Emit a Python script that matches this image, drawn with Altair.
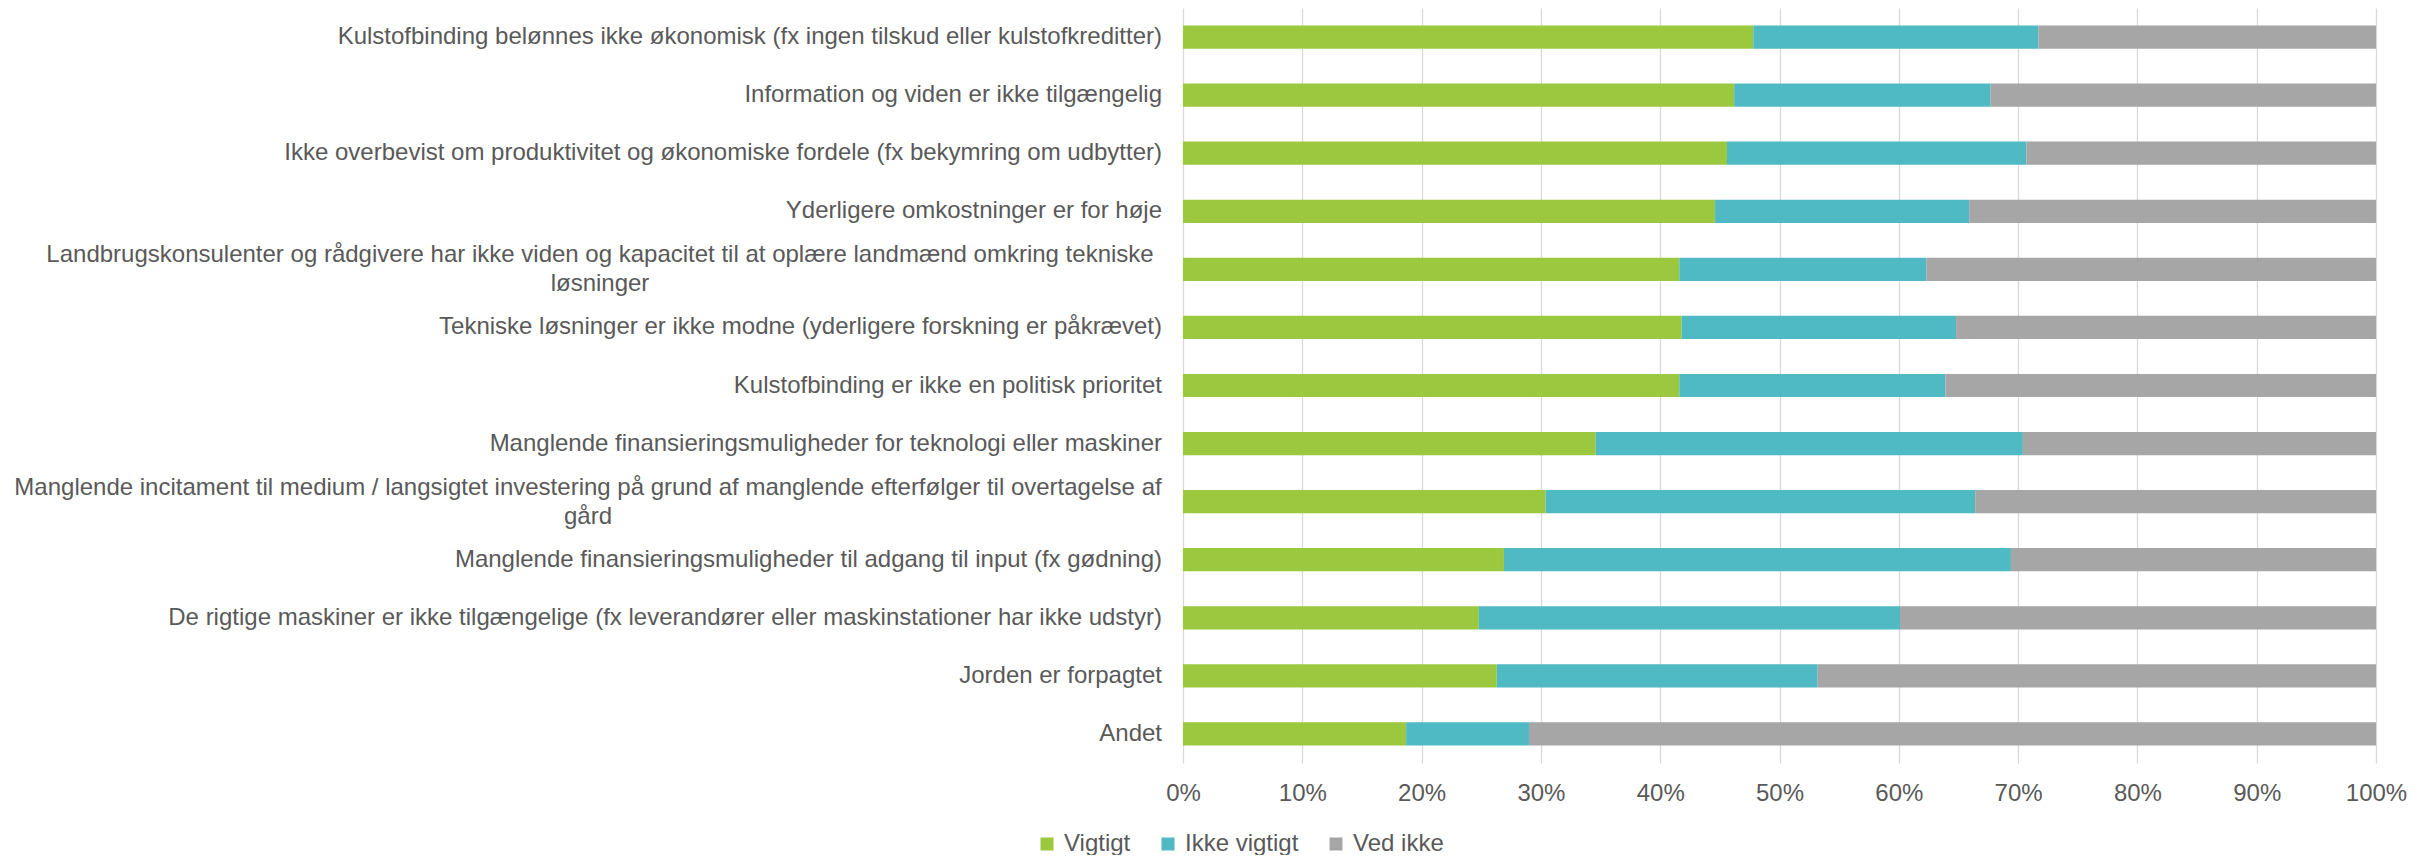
import altair as alt
import pandas as pd

categories = [
    "Kulstofbinding belønnes ikke økonomisk (fx ingen tilskud eller kulstofkreditter)",
    "Information og viden er ikke tilgængelig",
    "Ikke overbevist om produktivitet og økonomiske fordele (fx bekymring om udbytter)",
    "Yderligere omkostninger er for høje",
    "Landbrugskonsulenter og rådgivere har ikke viden og kapacitet til at oplære landmænd omkring tekniske løsninger",
    "Tekniske løsninger er ikke modne (yderligere forskning er påkrævet)",
    "Kulstofbinding er ikke en politisk prioritet\u00a0",
    "Manglende finansieringsmuligheder for teknologi eller maskiner",
    "Manglende incitament til medium / langsigtet investering på grund af manglende efterfølger til overtagelse af gård",
    "Manglende finansieringsmuligheder til adgang til input (fx gødning)",
    "De rigtige maskiner er ikke tilgængelige (fx leverandører eller maskinstationer har ikke udstyr)",
    "Jorden er forpagtet\u00a0",
    "Andet",
]

wrapped_a = ["Landbrugskonsulenter og rådgivere har ikke viden og kapacitet til at oplære landmænd omkring tekniske", "løsninger"]
wrapped_b = ["Manglende incitament til medium / langsigtet investering på grund af manglende efterfølger til overtagelse af", "gård"]

series = ["Vigtigt", "Ikke vigtigt", "Ved ikke"]
colors = ["#9BC83E", "#4FBAC4", "#A6A6A6"]

vigtigt = [47.8, 46.2, 45.6, 44.6, 41.6, 41.8, 41.6, 34.6, 30.4, 26.9, 24.8, 26.3, 18.7]
ikke_vigtigt = [23.9, 21.5, 25.1, 21.3, 20.7, 23.0, 22.3, 35.8, 36.0, 42.5, 35.3, 26.9, 10.3]
ved_ikke = [28.3, 32.3, 29.3, 34.1, 37.7, 35.2, 36.1, 29.6, 33.6, 30.6, 39.9, 46.8, 71.0]

rows = []
for i, c in enumerate(categories):
    for j, (s, vals) in enumerate(zip(series, [vigtigt, ikke_vigtigt, ved_ikke])):
        rows.append({"cat": c, "serie": s, "order": j, "value": vals[i] / 100.0})
df = pd.DataFrame(rows)

single = [c for c in categories if c not in (categories[4], categories[8])]
df_single = pd.DataFrame({"cat": single, "label": single})
df_wa = pd.DataFrame({"cat": [categories[4]], "label": [wrapped_a]})
df_wb = pd.DataFrame({"cat": [categories[8]], "label": [wrapped_b]})

yscale = alt.Scale(domain=categories, paddingInner=0.6, paddingOuter=0.3)
ycat = alt.Y("cat:N", sort=categories, scale=yscale, axis=None)

bars = alt.Chart(df).mark_bar().encode(
    x=alt.X(
        "value:Q",
        stack="zero",
        scale=alt.Scale(domain=[0, 1], nice=False),
        axis=alt.Axis(
            format=".0%",
            values=[i / 10 for i in range(11)],
            title=None,
            domain=False,
            ticks=False,
            tickSize=0,
            labelPadding=30,
            labelBaseline="middle",
            labelFontSize=24,
            labelColor="#595959",
            gridColor="#D9D9D9",
            gridWidth=1.3,
            labelFlush=False,
        ),
    ),
    y=ycat,
    color=alt.Color(
        "serie:N",
        scale=alt.Scale(domain=series, range=colors),
        legend=alt.Legend(
            title=None,
            orient="none",
            direction="horizontal",
            legendX=-148,
            legendY=824,
            symbolType="square",
            symbolSize=169,
            symbolStrokeWidth=0,
            symbolOpacity=1,
            labelFontSize=24,
            labelColor="#595959",
            labelOffset=5,
            columnPadding=25,
        ),
    ),
    order=alt.Order("order:Q"),
)

lab_single = alt.Chart(df_single).mark_text(
    align="right", baseline="middle", fontSize=24, color="#595959"
).encode(y=ycat, x=alt.value(-21), text="label:N")

lab_a = alt.Chart(df_wa).mark_text(
    align="center", baseline="middle", fontSize=24, color="#595959", lineHeight=29, dy=-14
).encode(y=ycat, x=alt.value(-583), text="label")

lab_b = alt.Chart(df_wb).mark_text(
    align="center", baseline="middle", fontSize=24, color="#595959", lineHeight=29, dy=-14
).encode(y=ycat, x=alt.value(-595), text="label")

chart = (
    alt.layer(bars, lab_single, lab_a, lab_b)
    .properties(
        width=1193,
        height=755,
        padding={"left": 1175, "top": 0, "right": 35, "bottom": 92},
        autosize=alt.AutoSizeParams(type="none"),
    )
    .configure(font="Liberation Sans")
    .configure_view(stroke=None)
)

chart.save("out.html", embed_options={"renderer": "svg", "actions": False})
